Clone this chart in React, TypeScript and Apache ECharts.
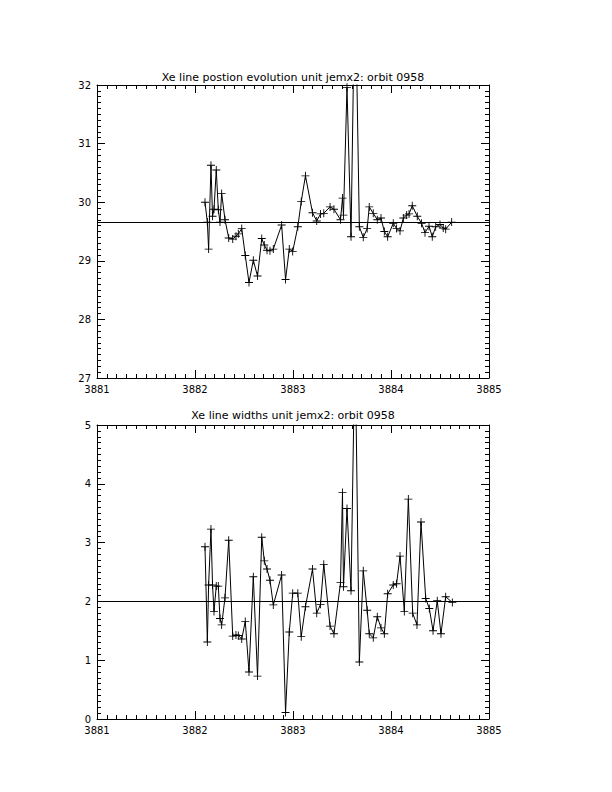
import React, { useEffect, useRef } from "react";
import * as echarts from "echarts";

// ---- data ----
const timeTop = [
  3882.102, 3882.126, 3882.139, 3882.163, 3882.179, 3882.194, 3882.217, 3882.238, 3882.255, 3882.272,
  3882.306, 3882.344, 3882.385, 3882.418, 3882.442, 3882.477, 3882.513, 3882.551, 3882.595, 3882.638,
  3882.681, 3882.707, 3882.735, 3882.765, 3882.799, 3882.884, 3882.924, 3882.962, 3882.997, 3883.049,
  3883.084, 3883.127, 3883.199, 3883.242, 3883.281, 3883.314, 3883.378, 3883.418, 3883.485, 3883.505,
  3883.515, 3883.551, 3883.592, 3883.633, 3883.677, 3883.717, 3883.757, 3883.778, 3883.819, 3883.860,
  3883.898, 3883.932, 3883.966, 3884.023, 3884.057, 3884.092, 3884.126, 3884.160, 3884.184, 3884.217,
  3884.268, 3884.312, 3884.347, 3884.388, 3884.421, 3884.456, 3884.500, 3884.533, 3884.558, 3884.619,
];
const positionTop = [
  30.0, 29.66, 29.2, 30.63, 29.76, 29.88, 30.55, 29.87, 29.66, 30.15,
  29.7, 29.39, 29.37, 29.42, 29.46, 29.55, 29.09, 28.63, 29.01, 28.74,
  29.38, 29.27, 29.18, 29.17, 29.2, 29.61, 28.68, 29.2, 29.16, 29.58,
  30.01, 30.45, 29.82, 29.68, 29.8, 29.81, 29.92, 29.88, 29.7, 30.07,
  29.78, 31.96, 29.41, 34.0, 29.58, 29.4, 29.55, 29.92, 29.81, 29.7,
  29.73, 29.5, 29.41, 29.64, 29.55, 29.51, 29.73, 29.78, 29.8, 29.94,
  29.76, 29.64, 29.48, 29.59, 29.41, 29.58, 29.62, 29.56, 29.54, 29.66,
];
const timeBottom = [
  3882.102, 3882.126, 3882.139, 3882.163, 3882.179, 3882.194, 3882.217, 3882.238, 3882.255, 3882.272,
  3882.306, 3882.344, 3882.385, 3882.418, 3882.442, 3882.477, 3882.513, 3882.551, 3882.595, 3882.638,
  3882.681, 3882.707, 3882.735, 3882.765, 3882.799, 3882.884, 3882.924, 3882.962, 3882.997, 3883.049,
  3883.084, 3883.127, 3883.199, 3883.242, 3883.281, 3883.314, 3883.378, 3883.418, 3883.485, 3883.505,
  3883.515, 3883.551, 3883.592, 3883.633, 3883.677, 3883.717, 3883.757, 3883.778, 3883.819, 3883.860,
  3883.898, 3883.932, 3883.966, 3884.023, 3884.057, 3884.092, 3884.136, 3884.177, 3884.221, 3884.265,
  3884.306, 3884.354, 3884.391, 3884.429, 3884.472, 3884.510, 3884.558, 3884.626,
];
const widthBottom = [
  2.93, 1.31, 2.28, 3.23, 2.28, 1.83, 2.26, 2.26, 1.71, 1.6,
  2.06, 3.04, 1.41, 1.43, 1.42, 1.36, 1.66, 0.8, 2.42, 0.73,
  3.09, 2.69, 2.55, 2.36, 1.94, 2.45, 0.11, 1.48, 2.14, 2.14,
  1.4, 1.91, 2.55, 1.8, 1.95, 2.63, 1.58, 1.45, 2.32, 3.85,
  2.25, 3.58, 2.18, 6.5, 0.97, 2.52, 1.85, 1.45, 1.38, 1.74,
  1.55, 1.45, 2.13, 2.28, 2.3, 2.77, 1.83, 3.74, 1.8, 1.6,
  3.35, 2.05, 1.88, 1.5, 2.01, 1.45, 2.08, 1.98,
];
const meanTop = 29.65;
const meanBottom = 2.0;
const titleTop = "Xe line postion evolution unit jemx2: orbit 0958";
const titleBottom = "Xe line widths unit jemx2: orbit 0958";
const xRange = [3881, 3885];
const yRangeTop = [27, 32];
const yRangeBottom = [0, 5];

const FONT = "DejaVu Sans";
const PLUS = "path://M4,0h1v9h-1z M0,4h9v1h-9z";

function axisBase(gridIndex: number, showLabel: boolean, position: string) {
  return {
    gridIndex,
    type: "value",
    position,
    axisLine: { show: true, onZero: false, lineStyle: { color: "#000", width: 1 } },
    axisTick: { show: true, inside: true, length: 8, lineStyle: { color: "#000", width: 1 } },
    minorTick: { show: true, splitNumber: 10, length: 4, lineStyle: { color: "#000", width: 1 } },
    splitLine: { show: false },
    axisLabel: {
      show: showLabel,
      color: "#000",
      fontFamily: FONT,
      fontSize: 10,
      margin: 6,
      formatter: (v: number) => String(v),
    },
  };
}

export default function App() {
  const ref = useRef<HTMLDivElement>(null);
  useEffect(() => {
    if (!ref.current) return;
    const chart = echarts.init(ref.current, undefined, { renderer: "svg" });
    const grids = [
      { left: 97, top: 85, width: 392, height: 293 },
      { left: 97, top: 425, width: 392, height: 294 },
    ];
    const xAxes: any[] = [];
    const yAxes: any[] = [];
    [0, 1].forEach((g) => {
      xAxes.push({ ...axisBase(g, true, "bottom"), min: xRange[0], max: xRange[1], interval: 1 });
      xAxes.push({ ...axisBase(g, false, "top"), min: xRange[0], max: xRange[1], interval: 1 });
      const yr = g === 0 ? yRangeTop : yRangeBottom;
      yAxes.push({ ...axisBase(g, true, "left"), min: yr[0], max: yr[1], interval: 1 });
      yAxes.push({ ...axisBase(g, false, "right"), min: yr[0], max: yr[1], interval: 1 });
    });
    const mkSeries = (xi: number, yi: number, xs: number[], ys: number[], mean: number) => ({
      type: "line",
      xAxisIndex: xi,
      yAxisIndex: yi,
      data: xs.map((x, i) => [x, ys[i]]),
      clip: true,
      symbol: PLUS,
      symbolSize: 8,
      showAllSymbol: true,
      itemStyle: { color: "#000" },
      lineStyle: { color: "#000", width: 1 },
      emphasis: { disabled: true },
      markLine: {
        silent: true,
        symbol: "none",
        label: { show: false },
        lineStyle: { color: "#000", width: 1, type: "solid" },
        data: [{ yAxis: mean }],
      },
    });
    chart.setOption({
      animation: false,
      backgroundColor: "#fff",
      grid: grids,
      xAxis: xAxes,
      yAxis: yAxes,
      series: [
        mkSeries(0, 0, timeTop, positionTop, meanTop),
        mkSeries(2, 2, timeBottom, widthBottom, meanBottom),
      ],
      graphic: [
        {
          type: "text",
          x: 293,
          y: 77,
          style: { text: titleTop, align: "center", verticalAlign: "middle", fontSize: 11, fontFamily: FONT, fill: "#000" },
        },
        {
          type: "text",
          x: 293,
          y: 415,
          style: { text: titleBottom, align: "center", verticalAlign: "middle", fontSize: 11, fontFamily: FONT, fill: "#000" },
        },
      ],
    });
    return () => chart.dispose();
  }, []);
  return (
    <div
      ref={ref}
      style={{ position: "fixed", left: 0, top: 0, width: 612, height: 792, background: "#fff" }}
    />
  );
}
